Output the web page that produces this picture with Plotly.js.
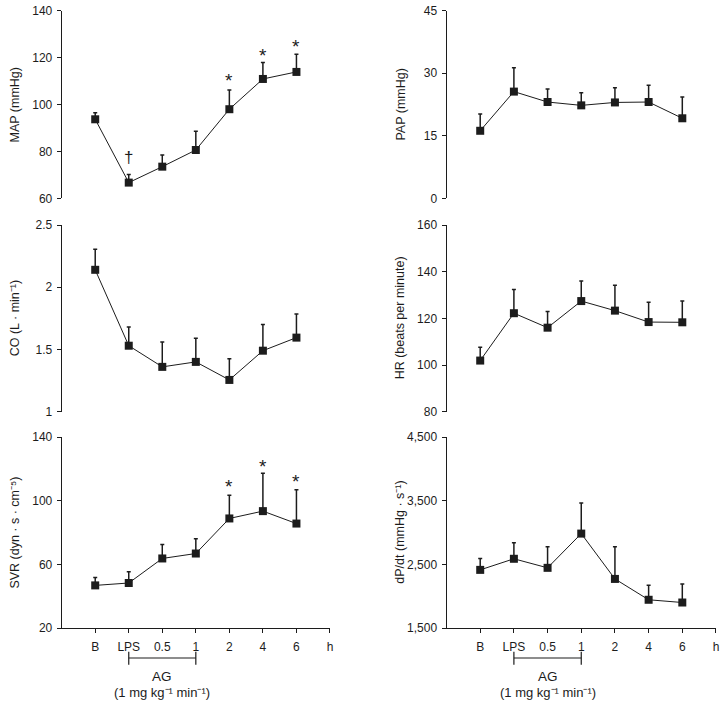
<!DOCTYPE html>
<html>
<head>
<meta charset="utf-8">
<script src="https://cdn.plot.ly/plotly-3.0.1.min.js"></script>
<style>
  html, body { margin: 0; padding: 0; background: #fff; }
  #plot { width: 723px; height: 706px; }
</style>
</head>
<body>
<div id="plot"></div>
<script>
// time points (h), plotted at positions 1..7; "h" closes the axis at 8
var timeLabels = ['B', 'LPS', '0.5', '1', '2', '4', '6'];

var mapMean = [93.7, 66.7, 73.5, 80.6, 98.0, 110.9, 113.9];
var mapSd   = [2.8, 3.5, 5.0, 8.0, 8.2, 7.0, 7.5];
var papMean = [16.2, 25.6, 23.1, 22.3, 23.0, 23.1, 19.2];
var papSd   = [4.0, 5.7, 3.1, 3.0, 3.5, 4.0, 5.1];
var coMean  = [2.14, 1.53, 1.36, 1.40, 1.255, 1.49, 1.595];
var coSd    = [0.165, 0.15, 0.2, 0.19, 0.17, 0.21, 0.19];
var hrMean  = [101.9, 122.2, 116.0, 127.4, 123.3, 118.4, 118.3];
var hrSd    = [5.7, 10.2, 6.9, 8.6, 10.9, 8.5, 9.1];
var svrMean = [46.9, 48.4, 63.8, 66.9, 88.9, 93.5, 85.7];
var svrSd   = [5.0, 7.0, 8.8, 9.3, 14.5, 23.8, 21.2];
var dpdtMean = [2416, 2590, 2448, 2985, 2274, 1947, 1904];
var dpdtSd   = [179, 253, 332, 479, 506, 226, 291];

// significance marks: time label and height of the symbol
var mapStarAt = ['2', '4', '6'];
var mapStarY  = [111.9, 122.8, 126.4];
var mapDaggerAt = ['LPS'];
var mapDaggerY  = [77.5];
var svrStarAt = ['2', '4', '6'];
var svrStarY  = [111.6, 123.8, 114.3];

var FONT = 'Liberation Sans, Arial, sans-serif';
var INK = '#1c1c1c';

var xs = timeLabels.map(function(t, i) { return i + 1; });
function xpos(label) { return timeLabels.indexOf(label) + 1; }

var panels = [
  {title: 'MAP (mmHg)', mean: mapMean, sd: mapSd, range: [60, 140], dtick: 20},
  {title: 'PAP (mmHg)', mean: papMean, sd: papSd, range: [0, 45], dtick: 15},
  {title: 'CO (L · min⁻¹)', mean: coMean, sd: coSd, range: [1, 2.5], dtick: 0.5},
  {title: 'HR (beats per minute)', mean: hrMean, sd: hrSd, range: [80, 160], dtick: 20},
  {title: 'SVR (dyn · s · cm⁻⁵)', mean: svrMean, sd: svrSd, range: [20, 140], dtick: 40},
  {title: 'dP/dt (mmHg · s⁻¹)', mean: dpdtMean, sd: dpdtSd, range: [1500, 4500], dtick: 1000, fmt: ',d'}
];

var rows = [[0.7191, 0.9848], [0.4169, 0.6813], [0.1101, 0.3810]];
var cols = [[0.0853, 0.4564], [0.6176, 0.9903]];
var titleX = [0.0207, 0.5533];

var traces = [];
var layout = {
  width: 723, height: 706,
  margin: {l: 0, r: 0, t: 0, b: 0},
  paper_bgcolor: '#fff', plot_bgcolor: '#fff',
  showlegend: false,
  font: {family: FONT, size: 12, color: INK},
  annotations: [],
  shapes: []
};

panels.forEach(function(p, i) {
  var n = i + 1;
  var row = Math.floor(i / 2), col = i % 2;
  var bottom = row === 2;
  var xa = 'x' + (n === 1 ? '' : n), ya = 'y' + (n === 1 ? '' : n);
  var xkey = 'xaxis' + (n === 1 ? '' : n), ykey = 'yaxis' + (n === 1 ? '' : n);

  traces.push({
    x: xs, y: p.mean,
    xaxis: xa, yaxis: ya,
    type: 'scatter', mode: 'lines+markers',
    line: {color: INK, width: 1},
    marker: {symbol: 'square', size: 8, color: INK},
    error_y: {type: 'data', symmetric: false, array: p.sd,
              arrayminus: p.sd.map(function() { return 0; }),
              color: INK, thickness: 1.5, width: 2},
    cliponaxis: false,
    hoverinfo: 'skip'
  });

  layout[xkey] = {
    domain: cols[col], anchor: ya, range: [0, 8],
    showgrid: false, zeroline: false,
    showline: bottom, linecolor: INK, linewidth: 1,
    ticks: bottom ? 'outside' : '', ticklen: 4, tickcolor: INK,
    tickvals: [1, 2, 3, 4, 5, 6, 7, 8],
    ticktext: timeLabels.concat(['h']),
    showticklabels: bottom, ticklabelstandoff: 3,
    tickfont: {size: 12, color: INK}
  };
  layout[ykey] = {
    domain: rows[row], anchor: xa, range: p.range,
    tick0: p.range[0], dtick: p.dtick, tickformat: p.fmt || '',
    showgrid: false, zeroline: false,
    showline: true, linecolor: INK, linewidth: 1,
    ticks: 'outside', ticklen: 4, tickcolor: INK,
    ticklabelstandoff: 2,
    tickfont: {size: 12, color: INK}
  };

  layout.annotations.push({
    xref: 'paper', yref: 'paper', x: titleX[col],
    y: (rows[row][0] + rows[row][1]) / 2,
    text: p.title, textangle: -90, showarrow: false,
    xanchor: 'center', yanchor: 'middle',
    font: {size: 12.5, color: INK}
  });

  if (bottom) {
    // AG infusion bracket, LPS to 1 h
    var x0 = xpos('LPS'), x1 = xpos('1');
    var lineStyle = {color: INK, width: 1.2};
    layout.shapes.push(
      {type: 'line', xref: xa, yref: 'paper', x0: x0, x1: x1, y0: 0.0680, y1: 0.0680, line: lineStyle},
      {type: 'line', xref: xa, yref: 'paper', x0: x0, x1: x0, y0: 0.0585, y1: 0.0770, line: lineStyle},
      {type: 'line', xref: xa, yref: 'paper', x0: x1, x1: x1, y0: 0.0585, y1: 0.0770, line: lineStyle}
    );
    layout.annotations.push(
      {xref: xa, yref: 'paper', x: (x0 + x1) / 2, y: 0.0415, text: 'AG',
       showarrow: false, yanchor: 'middle', font: {size: 13.5, color: INK}},
      {xref: xa, yref: 'paper', x: (x0 + x1) / 2, y: 0.0195,
       text: '(1 mg kg⁻¹ min⁻¹)',
       showarrow: false, yanchor: 'middle', font: {size: 13, color: INK}}
    );
  }
});

function marks(at, ys, sym, xa, ya, shift, size) {
  at.forEach(function(t, i) {
    layout.annotations.push({
      xref: xa, yref: ya, x: xpos(t), y: ys[i], text: sym,
      showarrow: false, yshift: shift, font: {size: size, color: INK}
    });
  });
}
marks(mapStarAt, mapStarY, '*', 'x', 'y', -4, 19);
marks(mapDaggerAt, mapDaggerY, '†', 'x', 'y', 0, 17);
marks(svrStarAt, svrStarY, '*', 'x5', 'y5', -4, 19);

Plotly.newPlot('plot', traces, layout, {staticPlot: true, displayModeBar: false});
</script>
</body>
</html>
